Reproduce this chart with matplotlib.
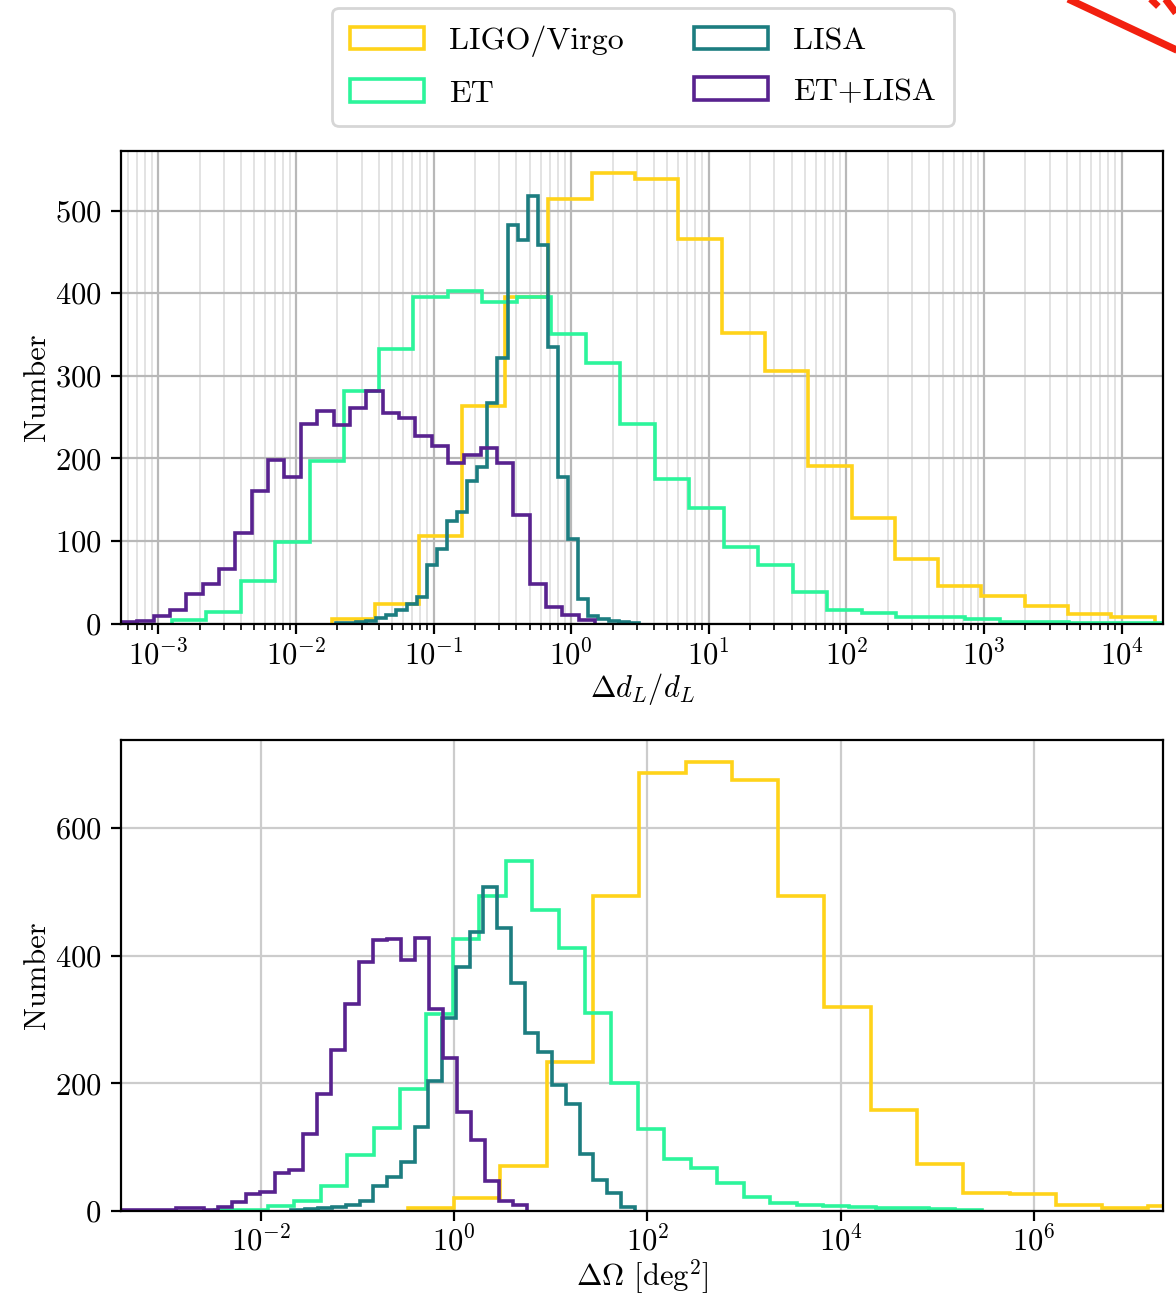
import numpy as np
import matplotlib
matplotlib.use('Agg')
import matplotlib.pyplot as plt
from matplotlib.ticker import LogLocator, NullLocator, NullFormatter
from matplotlib.lines import Line2D

plt.rcParams['font.family'] = ['cmr10', 'DejaVu Serif']
plt.rcParams['mathtext.fontset'] = 'cm'
plt.rcParams['axes.formatter.use_mathtext'] = True
plt.rcParams['font.size'] = 11

labels = ['LIGO/Virgo', 'ET', 'LISA', 'ET+LISA']
colors = ['#ffd31a', '#2cf59b', '#1c7d80', '#58228f']

# top panel: Delta d_L / d_L  (log10 of first / last bin edge, counts per bin)
dl_lo = [-1.738, -2.901, -1.710, -3.271]
dl_hi = [4.240, 4.368, 0.492, 0.174]
dl_ligo = [6, 24, 106, 263, 395, 514, 545, 538, 466, 352, 306, 191, 128, 78, 46, 33, 21, 12, 8]
dl_et = [4, 14, 51, 99, 197, 281, 333, 396, 403, 389, 396, 351, 316, 242, 175, 140, 93, 71,
         38, 17, 13, 8, 8, 5, 2, 2, 1, 1, 1]
dl_lisa = [1, 1, 2, 3, 7, 10, 16, 24, 32, 71, 90, 124, 135, 173, 190, 267, 321, 483, 464, 518,
           458, 335, 178, 102, 30, 9, 5, 3, 2, 1]
dl_etlisa = [2, 3, 9, 17, 36, 48, 66, 110, 161, 198, 178, 242, 257, 240, 261, 281, 255, 249,
             227, 215, 195, 204, 213, 194, 131, 48, 20, 10, 4]
dl_ticks = [1e-3, 1e-2, 1e-1, 1e0, 1e1, 1e2, 1e3, 1e4]

# bottom panel: Delta Omega [deg^2]
om_lo = [-0.478, -2.474, -1.689, -3.451]
om_hi = [7.660, 5.456, 1.868, 0.750]
om_ligo = [4, 20, 70, 234, 493, 686, 703, 675, 493, 319, 158, 73, 28, 26, 10, 5, 8]
om_et = [1, 2, 8, 16, 39, 88, 130, 191, 309, 426, 494, 549, 471, 412, 311, 200, 129, 81, 67,
         44, 22, 13, 10, 8, 6, 5, 4, 3, 2]
om_lisa = [1, 3, 4, 6, 10, 16, 40, 53, 77, 131, 203, 302, 382, 437, 508, 443, 357, 279, 249,
           198, 168, 89, 48, 28, 7]
om_etlisa = [1, 1, 1, 1, 4, 4, 2, 7, 14, 27, 30, 60, 65, 120, 183, 253, 324, 390, 424, 426,
             394, 428, 317, 240, 155, 112, 47, 16, 10]
om_ticks = [1e-2, 1e0, 1e2, 1e4, 1e6]

dl_counts = [dl_ligo, dl_et, dl_lisa, dl_etlisa]
om_counts = [om_ligo, om_et, om_lisa, om_etlisa]


def draw(ax, lows, highs, counts):
    for lo, hi, c, col, lab in zip(lows, highs, counts, colors, labels):
        edges = 10 ** np.linspace(lo, hi, len(c) + 1)
        mids = np.sqrt(edges[:-1] * edges[1:])
        ax.hist(mids, bins=edges, weights=c, histtype='step', color=col, lw=1.3, label=lab)
    ax.set_xscale('log')
    ax.set_axisbelow(True)


fig = plt.figure(figsize=(5.88, 6.49), dpi=200)
ax1 = fig.add_axes([0.1029, 0.5196, 0.886, 0.3641])
ax2 = fig.add_axes([0.1029, 0.0670, 0.886, 0.3629])

draw(ax1, dl_lo, dl_hi, dl_counts)
ax1.set_xlim(10 ** -3.271, 10 ** 4.300)
ax1.set_xticks(dl_ticks)
ax1.xaxis.set_minor_locator(LogLocator(base=10, subs=np.arange(2, 10), numticks=100))
ax1.xaxis.set_minor_formatter(NullFormatter())
ax1.tick_params(axis='x', pad=2.5)
ax1.grid(which='major', color='0.72', lw=0.8)
ax1.grid(which='minor', color='0.87', lw=0.6)
ax1.set_xlabel(r'$\Delta d_L/d_L$', labelpad=0)
ax1.set_ylabel('Number', labelpad=1.5)

draw(ax2, om_lo, om_hi, om_counts)
ax2.set_xlim(10 ** -3.445, 10 ** 7.331)
ax2.set_xticks(om_ticks)
ax2.xaxis.set_minor_locator(NullLocator())
ax2.tick_params(axis='x', pad=2)
ax2.set_yticks([0, 200, 400, 600])
ax2.grid(which='major', color='0.8', lw=0.8)
ax2.set_xlabel(r'$\Delta\Omega$ [deg$^2$]', labelpad=0)
ax2.set_ylabel('Number', labelpad=1.5)

h, l = ax1.get_legend_handles_labels()
fig.legend(h, l, loc='upper center', bbox_to_anchor=(0.5468, 0.9938), ncol=2,
           handlelength=2.3, columnspacing=2.2, fontsize=11.5, labelspacing=0.69,
           borderpad=0.56, borderaxespad=0)

# red stroke cut off in the top right corner of the original picture
fig.add_artist(Line2D([0.903, 1.004], [1.003, 0.960], transform=fig.transFigure,
                      color='#f2200f', lw=2.6, solid_capstyle='butt'))
fig.add_artist(Line2D([0.977, 0.985], [1.002, 0.995], transform=fig.transFigure,
                      color='#f2200f', lw=2.4, solid_capstyle='butt'))
fig.add_artist(Line2D([0.990, 1.0], [1.002, 0.990], transform=fig.transFigure,
                      color='#f2200f', lw=2.6, solid_capstyle='butt'))

fig.savefig('out.png', dpi=200)
